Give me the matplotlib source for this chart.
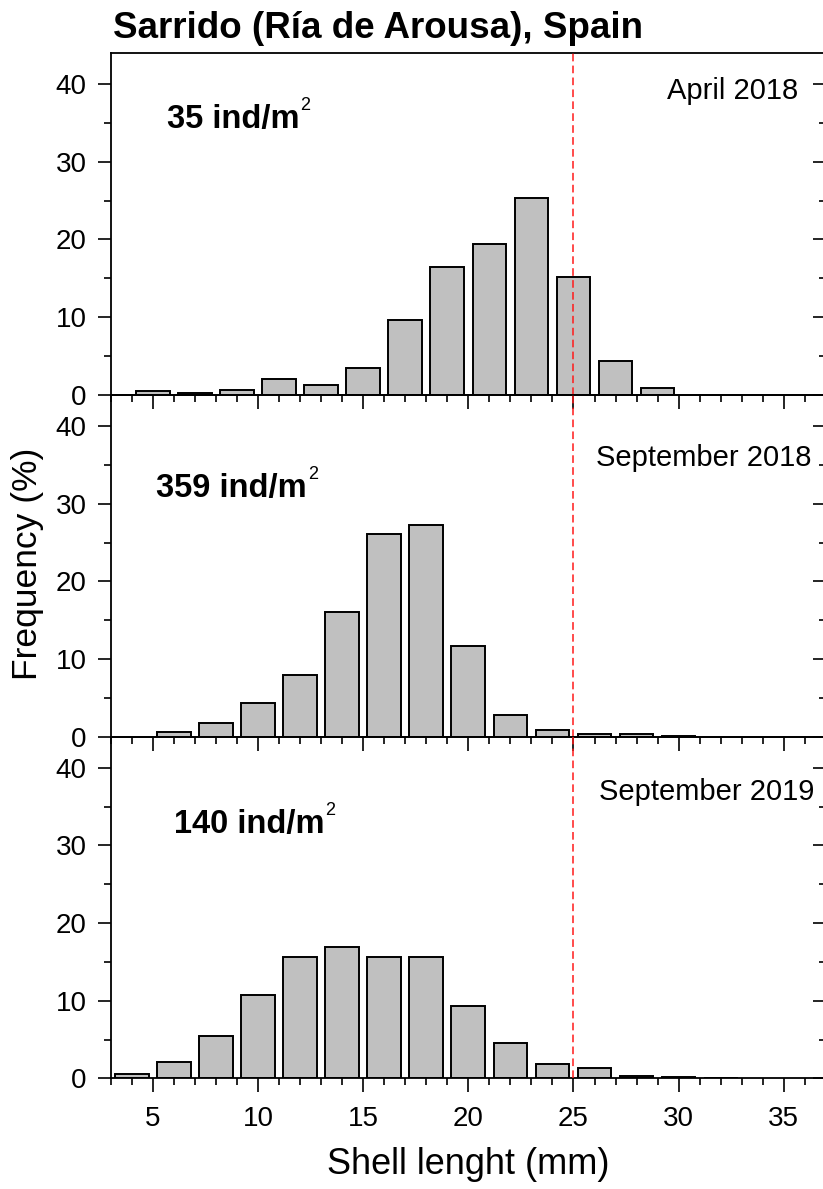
import matplotlib
matplotlib.use('Agg')
import matplotlib.pyplot as plt
from matplotlib.ticker import MultipleLocator

plt.rcParams['font.family'] = ['Liberation Sans', 'DejaVu Sans']

# size class centres (mm) and frequency (%) for each sampling date
apr18_len = [5, 7, 9, 11, 13, 15, 17, 19, 21, 23, 25, 27, 29]
apr18_freq = [0.5, 0.2, 0.6, 2.0, 1.3, 3.4, 9.6, 16.5, 19.4, 25.3, 15.1, 4.3, 0.9]

sep18_len = [6, 8, 10, 12, 14, 16, 18, 20, 22, 24, 26, 28, 30]
sep18_freq = [0.6, 1.7, 4.4, 7.9, 16.1, 26.1, 27.3, 11.7, 2.8, 0.9, 0.4, 0.3, 0.15]

sep19_len = [4, 6, 8, 10, 12, 14, 16, 18, 20, 22, 24, 26, 28, 30, 32]
sep19_freq = [0.6, 2.1, 5.4, 10.8, 15.6, 16.9, 15.6, 15.6, 9.3, 4.5, 1.9, 1.4, 0.3, 0.15, 0.1]

dates = ['April 2018', 'September 2018', 'September 2019']
densities = ['35', '359', '140']
legal_size = 25  # mm, dashed red line

title = 'Sarrido (Ría de Arousa), Spain'
xlabel = 'Shell lenght (mm)'
ylabel = 'Frequency (%)'

# label placement inside each panel (data coords)
date_pos = [(35.67, 38.1), (36.33, 34.8), (36.47, 35.9)]
dens_pos = [(5.66, 34.3), (5.16, 30.9), (6.0, 31.6)]

W, H = 823, 1189
fig = plt.figure(figsize=(W / 100, H / 100), dpi=100)

left = 110.7 / W
width = (825.9 - 110.7) / W
tops = [53, 395, 736.7]
ph = 341.7

series = [(apr18_len, apr18_freq), (sep18_len, sep18_freq), (sep19_len, sep19_freq)]
axs = []
for i, (lens, freq) in enumerate(series):
    ax = fig.add_axes([left, 1 - (tops[i] + ph) / H, width, ph / H])
    ax.patch.set_visible(False)
    ax.bar(lens, freq, width=1.6, color='#c0c0c0', edgecolor='black', linewidth=1.4, zorder=2)
    ax.axvline(legal_size, color='#ff1a1a', linestyle=(0, (5, 2.8)), linewidth=1.1, zorder=3)
    ax.set_xlim(3, 37)
    ax.set_ylim(0, 44)
    ax.xaxis.set_major_locator(MultipleLocator(5))
    ax.xaxis.set_minor_locator(MultipleLocator(1))
    ax.yaxis.set_major_locator(MultipleLocator(10))
    ax.yaxis.set_minor_locator(MultipleLocator(5))
    ax.tick_params(axis='x', which='both', direction='out', top=False, width=1.2, pad=10, labelsize=20)
    ax.tick_params(axis='x', which='major', length=10)
    ax.tick_params(axis='x', which='minor', length=5)
    ax.tick_params(axis='y', which='both', left=True, right=True, direction='out', width=1.2, pad=8, labelsize=20)
    ax.tick_params(axis='y', which='major', length=9.4)
    ax.tick_params(axis='y', which='minor', length=4.7)
    # right-hand ticks point into the panel
    for t in ax.yaxis.get_ticklines(minor=False)[1::2] + ax.yaxis.get_ticklines(minor=True)[1::2]:
        t.set_marker(matplotlib.lines.TICKLEFT)
    for s in ax.spines.values():
        s.set_linewidth(1.3)
    if i < 2:
        ax.tick_params(axis='x', labelbottom=False)

    ax.text(date_pos[i][0], date_pos[i][1], dates[i], ha='right', va='baseline', fontsize=21)
    txt = ax.text(dens_pos[i][0], dens_pos[i][1], densities[i] + ' ind/m', ha='left', va='baseline',
                  fontsize=23.5, fontweight='bold')
    ax.annotate('2', xy=(1, 1), xycoords=txt, xytext=(1, 7), textcoords='offset pixels',
                ha='left', va='top', fontsize=13)
    axs.append(ax)

fig.text(113 / W, 1 - 28 / H, title, ha='left', va='center', fontsize=26.5, fontweight='bold')
fig.text(28 / W, 1 - 564 / H, ylabel, ha='center', va='center', rotation=90, fontsize=25.5)
fig.text(468 / W, 1 - 1165 / H, xlabel, ha='center', va='center', fontsize=26)

plt.savefig('out.png', dpi=100)
